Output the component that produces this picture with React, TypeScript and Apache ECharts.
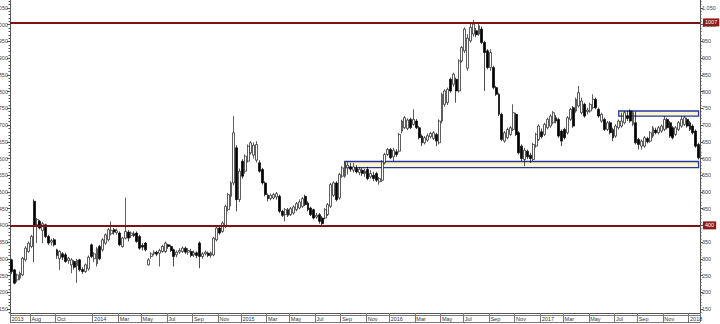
import React, { useEffect, useRef } from "react";
import * as echarts from "echarts";

// weekly bars: [open, close, low, high]
const y2013: number[][] = [
  [297, 262, 255, 300], [267, 227, 224, 270], [237, 252, 230, 256], [242, 257, 236, 262],
  [252, 302, 248, 306], [297, 332, 292, 338], [322, 347, 318, 352], [337, 367, 332, 372],
  [472, 400, 290, 478], [402, 418, 347, 422], [412, 392, 388, 416], [385, 405, 347, 410],
  [402, 367, 362, 405], [367, 347, 342, 372], [350, 355, 340, 360], [357, 342, 337, 362],
  [327, 310, 300, 330], [300, 322, 267, 326], [315, 305, 296, 320], [312, 292, 288, 318],
  [295, 302, 285, 306], [282, 297, 257, 302], [292, 275, 268, 296], [280, 295, 228, 300],
  [297, 267, 262, 300], [268, 262, 255, 275], [262, 282, 258, 286], [270, 305, 265, 310],
  [342, 307, 302, 346],
];
const y2014: number[][] = [
  [300, 315, 290, 320], [285, 330, 277, 335], [337, 300, 296, 342], [327, 357, 322, 362],
  [347, 372, 342, 376], [357, 387, 352, 392], [375, 385, 370, 412], [387, 380, 372, 392],
  [378, 384, 372, 390], [377, 342, 338, 382], [337, 362, 333, 366], [362, 382, 358, 483],
  [380, 362, 352, 386], [370, 377, 362, 382], [375, 370, 365, 382], [377, 352, 348, 382],
  [367, 332, 327, 372], [340, 335, 325, 347], [347, 327, 322, 350], [282, 297, 280, 302],
  [307, 315, 300, 320], [315, 320, 310, 325], [320, 314, 308, 324], [317, 325, 277, 330],
  [322, 337, 318, 342], [322, 347, 317, 352], [342, 337, 330, 345], [337, 325, 320, 342],
  [327, 307, 277, 330], [312, 320, 305, 325], [320, 325, 315, 332], [322, 332, 318, 337],
  [332, 320, 315, 337], [320, 325, 312, 332], [322, 310, 305, 330], [312, 318, 305, 325],
  [318, 310, 302, 322], [347, 307, 272, 352], [307, 315, 300, 320], [315, 320, 310, 325],
  [317, 310, 305, 322], [310, 318, 303, 322], [312, 362, 308, 366], [357, 392, 352, 398],
  [392, 377, 372, 400], [382, 407, 378, 412], [397, 457, 392, 462], [447, 492, 442, 497],
  [487, 527, 457, 532], [527, 677, 520, 727], [632, 477, 442, 640], [477, 562, 470, 570],
];
const y2015: number[][] = [
  [592, 547, 540, 598], [562, 607, 555, 612], [592, 637, 588, 642], [617, 647, 612, 652],
  [610, 640, 600, 648], [595, 642, 588, 652], [587, 562, 558, 595], [567, 527, 522, 572],
  [527, 492, 487, 532], [490, 480, 472, 495], [480, 490, 475, 495], [482, 492, 478, 497],
  [485, 495, 477, 500], [487, 442, 437, 492], [442, 430, 425, 447], [432, 447, 412, 452],
  [447, 430, 425, 452], [432, 450, 428, 455], [437, 455, 432, 460], [447, 465, 442, 470],
  [452, 470, 448, 478], [457, 480, 452, 485], [487, 462, 458, 492], [467, 447, 442, 472],
  [452, 432, 428, 456], [447, 422, 418, 450], [425, 430, 420, 437], [432, 412, 405, 437],
  [422, 405, 397, 428], [422, 447, 418, 452], [432, 462, 428, 467], [457, 522, 452, 527],
  [490, 527, 485, 532], [527, 477, 472, 532], [482, 552, 477, 557], [547, 572, 542, 577],
  [547, 587, 542, 592], [572, 580, 552, 590], [575, 568, 560, 587], [565, 575, 558, 587],
  [570, 560, 555, 580], [558, 568, 550, 575], [565, 555, 548, 572], [555, 562, 545, 570],
  [567, 540, 535, 575], [545, 555, 540, 565], [550, 540, 532, 560], [555, 535, 530, 560],
  [530, 540, 522, 545], [535, 590, 530, 595], [587, 612, 582, 617], [612, 627, 608, 632],
];
const y2016: number[][] = [
  [627, 602, 598, 632], [605, 625, 592, 632], [620, 612, 605, 628], [622, 672, 618, 677],
  [682, 712, 675, 716], [692, 722, 688, 727], [690, 715, 685, 720], [717, 692, 688, 722],
  [702, 717, 698, 747], [712, 692, 688, 718], [692, 662, 657, 697], [667, 647, 637, 672],
  [647, 662, 642, 667], [655, 668, 650, 675], [665, 675, 660, 680], [660, 677, 655, 682],
  [672, 652, 637, 677], [647, 712, 642, 717], [712, 792, 705, 797], [762, 802, 755, 807],
  [767, 807, 760, 812], [837, 802, 797, 842], [822, 852, 815, 857], [837, 802, 767, 842],
  [802, 892, 797, 897], [892, 932, 887, 937], [922, 987, 915, 992], [870, 960, 862, 972],
  [952, 992, 947, 1007], [972, 1002, 965, 1015], [982, 970, 962, 990], [972, 997, 967, 1008],
  [987, 947, 942, 995], [947, 917, 802, 952], [922, 872, 867, 927], [872, 917, 862, 927],
  [872, 812, 807, 877], [812, 792, 787, 817], [792, 732, 727, 797], [732, 657, 652, 737],
  [652, 677, 647, 682], [662, 687, 657, 692], [672, 692, 667, 697], [687, 737, 682, 762],
  [732, 672, 667, 737], [677, 617, 612, 682], [637, 600, 592, 642], [597, 625, 577, 632],
  [622, 605, 598, 627], [610, 600, 587, 617], [597, 642, 592, 647], [637, 672, 632, 677],
  [657, 697, 652, 702],
];
const y2017: number[][] = [
  [680, 665, 660, 690], [672, 702, 667, 707], [692, 717, 687, 722], [697, 727, 692, 732],
  [707, 737, 702, 742], [722, 712, 705, 730], [717, 667, 662, 722], [682, 652, 637, 687],
  [687, 662, 657, 692], [677, 722, 672, 727], [717, 747, 712, 752], [752, 697, 692, 757],
  [742, 777, 737, 782], [757, 797, 752, 817], [737, 772, 732, 782], [762, 727, 722, 767],
  [740, 745, 732, 752], [742, 762, 737, 767], [752, 777, 747, 792], [777, 752, 747, 782],
  [747, 727, 722, 752], [712, 732, 707, 737], [717, 687, 682, 722], [687, 707, 682, 712],
  [707, 677, 672, 712], [687, 662, 652, 692], [667, 697, 662, 702], [692, 712, 687, 717],
  [697, 712, 692, 737], [707, 737, 702, 742], [727, 720, 712, 742], [742, 712, 707, 747],
  [702, 737, 697, 742], [707, 647, 642, 740], [657, 642, 627, 662], [637, 652, 627, 657],
  [637, 662, 632, 667], [660, 650, 645, 665], [652, 677, 647, 682], [667, 692, 662, 697],
  [685, 677, 672, 692], [677, 692, 672, 697], [682, 697, 677, 702], [687, 717, 682, 727],
  [717, 692, 687, 722], [707, 667, 662, 712], [692, 662, 657, 697], [672, 692, 667, 697],
  [687, 707, 682, 712], [697, 717, 692, 727], [702, 722, 697, 727], [717, 697, 692, 722],
];
const y2018: number[][] = [
  [707, 687, 682, 712], [697, 677, 672, 702], [682, 637, 632, 687], [642, 602, 597, 647],
];

const bars = [...y2013, ...y2014, ...y2015, ...y2016, ...y2017, ...y2018];

// weekly categories starting 2013-06-14
const dates = bars.map((_, i) => {
  const d = new Date(Date.UTC(2013, 5, 14 + 7 * i));
  return d.toISOString().slice(0, 10);
});

const dateTicks: [string, string][] = [
  ["2013-06", "2013"], ["2013-08", "Aug"], ["2013-10", "Oct"],
  ["2014-01", "2014"], ["2014-03", "Mar"], ["2014-05", "May"], ["2014-07", "Jul"], ["2014-09", "Sep"], ["2014-11", "Nov"],
  ["2015-01", "2015"], ["2015-03", "Mar"], ["2015-05", "May"], ["2015-07", "Jul"], ["2015-09", "Sep"], ["2015-11", "Nov"],
  ["2016-01", "2016"], ["2016-03", "Mar"], ["2016-05", "May"], ["2016-07", "Jul"], ["2016-09", "Sep"], ["2016-11", "Nov"],
  ["2017-01", "2017"], ["2017-03", "Mar"], ["2017-05", "May"], ["2017-07", "Jul"], ["2017-09", "Sep"], ["2017-11", "Nov"],
  ["2018-01", "2018"],
];

const yLabels = [150, 200, 250, 300, 350, 400, 450, 500, 550, 600, 650, 700, 750, 800, 850, 900, 950, 1000, 1050];
const yMin = 138;
const yMax = 1074;

const levels = [1007, 400];
const lastPrice = 602;

const zones = [
  { from: "2015-09-11", to: "2018-01-26", low: 573, high: 591 },
  { from: "2017-07-14", to: "2018-01-26", low: 727, high: 742 },
];

export default function App() {
  const ref = useRef<HTMLDivElement>(null);

  useEffect(() => {
    if (!ref.current) return;
    const chart = echarts.init(ref.current, undefined, { renderer: "svg" });

    const tickMap = new Map<number, string>();
    dateTicks.forEach(([key, label]) => {
      const idx = dates.findIndex((d) => d.startsWith(key));
      if (idx >= 0) tickMap.set(idx, label);
    });

    const minorTicks: number[] = [];
    for (let v = 140; v <= 1070; v += 10) minorTicks.push(v);

    const font = "Liberation Sans, Arial, sans-serif";
    const axisColor = "#555";

    const mkY = (position: "left" | "right", major: boolean) => ({
      type: "value",
      position,
      min: yMin,
      max: yMax,
      splitLine: { show: false },
      axisLine: { show: major, lineStyle: { color: axisColor, width: 1 } },
      axisTick: {
        show: true,
        customValues: major ? yLabels : minorTicks,
        length: major ? 3 : 1.5,
        lineStyle: { color: axisColor, width: 1 },
      },
      axisLabel: {
        show: major,
        customValues: yLabels,
        fontSize: 5.5,
        color: "#444",
        fontFamily: font,
        margin: 2,
      },
    });

    chart.setOption({
      animation: false,
      backgroundColor: "#ffffff",
      grid: { left: 10, right: 20, top: 0, bottom: 11, containLabel: false, outerBoundsMode: "none" },
      xAxis: {
        type: "category",
        data: dates,
        boundaryGap: true,
        axisLine: { show: true, lineStyle: { color: axisColor, width: 1 } },
        axisTick: {
          show: true,
          interval: (i: number) => tickMap.has(i),
          length: 9,
          lineStyle: { color: "#777", width: 1 },
        },
        axisLabel: {
          interval: (i: number) => tickMap.has(i),
          formatter: (_v: string, i: number) => tickMap.get(i) || "",
          align: "left",
          fontSize: 5.5,
          color: "#333",
          fontFamily: font,
          margin: 3,
        },
        splitLine: { show: false },
      },
      yAxis: [mkY("right", true), mkY("right", false), mkY("left", true), mkY("left", false)],
      graphic: [
        { type: "line", shape: { x1: 10, y1: 315.5, x2: 700, y2: 315.5 }, style: { stroke: "#777", lineWidth: 1 }, silent: true },
        { type: "line", shape: { x1: 10, y1: 322.5, x2: 700, y2: 322.5 }, style: { stroke: "#777", lineWidth: 1 }, silent: true },
      ],
      series: [
        {
          type: "candlestick",
          xAxisIndex: 0,
          yAxisIndex: 0,
          data: bars,
          barWidth: 2.4,
          itemStyle: {
            color: "#ffffff",
            color0: "#000000",
            borderColor: "#1a1a1a",
            borderColor0: "#000000",
            borderWidth: 0.7,
          },
          markArea: {
            silent: true,
            itemStyle: { color: "#fcf4cc", borderColor: "#24349f", borderWidth: 1.3 },
            data: zones.map((z) => [
              { xAxis: z.from, yAxis: z.high },
              { xAxis: z.to, yAxis: z.low },
            ]),
          },
          markLine: {
            silent: true,
            symbol: "none",
            lineStyle: { color: "#7d1414", width: 2, type: "solid" },
            label: {
              position: "end",
              distance: 3,
              formatter: "{c}",
              fontSize: 5.5,
              fontFamily: font,
              color: "#ffffff",
              backgroundColor: "#8b1c1c",
              padding: [1, 2],
            },
            data: [
              ...levels.map((v) => ({ yAxis: v })),
              {
                yAxis: lastPrice,
                lineStyle: { width: 0, opacity: 0 },
                label: {
                  color: "#000000",
                  backgroundColor: "#ffffff",
                  borderColor: "#000000",
                  borderWidth: 0.8,
                },
              },
            ],
          },
        },
      ],
    });

    return () => chart.dispose();
  }, []);

  return (
    <div
      ref={ref}
      style={{ position: "fixed", left: 0, top: 0, width: 720, height: 324, background: "#fff" }}
    />
  );
}
